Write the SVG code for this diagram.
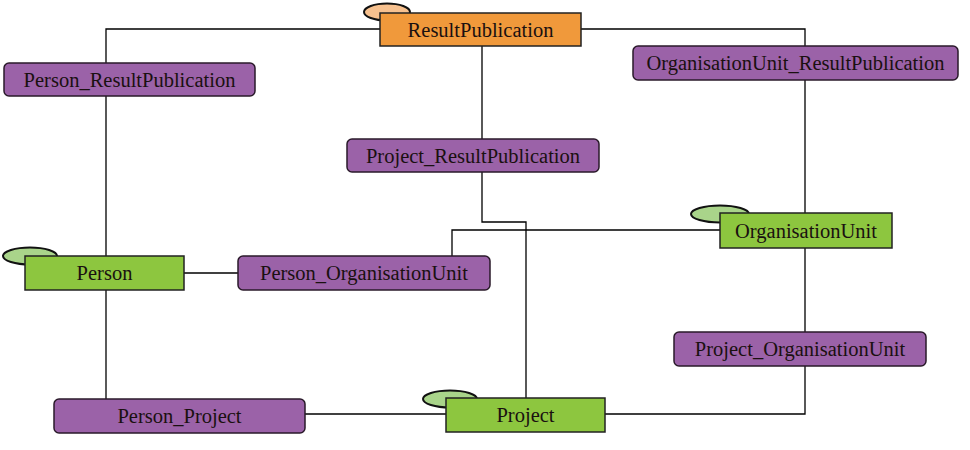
<svg xmlns="http://www.w3.org/2000/svg" width="970" height="450" viewBox="0 0 970 450">
<style>
.bg{fill:#ffffff}
.conn{fill:none;stroke:#000;stroke-width:1.3}
.ent{stroke:#222;stroke-width:1.5}
.green{fill:#8dc63f}
.orange{fill:#f0993b}
.gell{fill:#a9d48a;stroke:#111;stroke-width:2}
.oell{fill:#f7c18f;stroke:#111;stroke-width:2}
.rel{fill:#9b62a8;stroke:#2a1a2a;stroke-width:1.5}
.lbl{font-size:20.5px;fill:#1a1010;text-anchor:middle}
</style>
<rect class="bg" x="0" y="0" width="970" height="450"/>
<g id="connectors">
<polyline class="conn" points="380,29 106,29 106,256"/>
<line class="conn" x1="106" y1="290" x2="106" y2="399"/>
<polyline class="conn" points="581,29 805,29 805,213"/>
<polyline class="conn" points="805,248 805,414 605,414"/>
<polyline class="conn" points="482,46 482,222 526,222 526,398"/>
<polyline class="conn" points="720,230 452,230 452,256"/>
<line class="conn" x1="184" y1="273" x2="238" y2="273"/>
<line class="conn" x1="305" y1="414" x2="446" y2="414"/>
</g>
<g font-family="'Liberation Serif', 'Times New Roman', Times, 'DejaVu Serif', serif">
<g id="ResultPublication">
<ellipse class="oell" cx="387" cy="12" rx="23" ry="8.5"/>
<rect class="ent orange" x="380" y="13" width="201" height="33"/>
<text class="lbl" x="480.5" y="37">ResultPublication</text>
</g>
<g id="Person">
<ellipse class="gell" cx="30" cy="256" rx="27" ry="8.5"/>
<rect class="ent green" x="25" y="256" width="159" height="34"/>
<text class="lbl" x="104.5" y="280">Person</text>
</g>
<g id="Project">
<ellipse class="gell" cx="450" cy="399" rx="27" ry="8.5"/>
<rect class="ent green" x="446" y="398" width="159" height="34"/>
<text class="lbl" x="525.5" y="422">Project</text>
</g>
<g id="OrganisationUnit">
<ellipse class="gell" cx="720" cy="214" rx="29" ry="8.5"/>
<rect class="ent green" x="720" y="213" width="172" height="35"/>
<text class="lbl" x="806" y="238">OrganisationUnit</text>
</g>
<g id="Person_ResultPublication">
<rect class="rel" x="4" y="63" width="251" height="33" rx="5"/>
<text class="lbl" x="129.5" y="87">Person_ResultPublication</text>
</g>
<g id="OrganisationUnit_ResultPublication">
<rect class="rel" x="633" y="46" width="325" height="34" rx="5"/>
<text class="lbl" x="795.5" y="70">OrganisationUnit_ResultPublication</text>
</g>
<g id="Project_ResultPublication">
<rect class="rel" x="347" y="139" width="252" height="33" rx="5"/>
<text class="lbl" x="473" y="163">Project_ResultPublication</text>
</g>
<g id="Person_OrganisationUnit">
<rect class="rel" x="238" y="256" width="252" height="34" rx="5"/>
<text class="lbl" x="364" y="280">Person_OrganisationUnit</text>
</g>
<g id="Project_OrganisationUnit">
<rect class="rel" x="674" y="332" width="252" height="34" rx="5"/>
<text class="lbl" x="800" y="356">Project_OrganisationUnit</text>
</g>
<g id="Person_Project">
<rect class="rel" x="54" y="399" width="251" height="34" rx="5"/>
<text class="lbl" x="179.5" y="423">Person_Project</text>
</g>
</g>
</svg>
